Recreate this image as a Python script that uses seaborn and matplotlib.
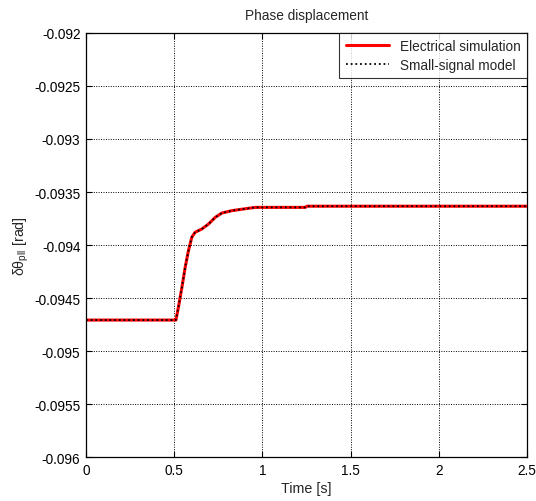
import numpy as np
import pandas as pd
import matplotlib
matplotlib.use('Agg')
import matplotlib.pyplot as plt
from matplotlib.ticker import FuncFormatter
import seaborn as sns

# Values
time_s = [0.0, 0.51, 0.524, 0.544, 0.5625, 0.581, 0.600, 0.619, 0.657, 0.695,
          0.733, 0.771, 0.828, 0.903, 0.960, 1.244, 1.252, 2.5]
phase_rad = [-0.094708, -0.094708, -0.094588, -0.094399, -0.094210, -0.094054,
             -0.093927, -0.093880, -0.093849, -0.093802, -0.093739, -0.093698,
             -0.093676, -0.093658, -0.093645, -0.093645, -0.093634, -0.093634]

x_ticks = [0, 0.5, 1, 1.5, 2, 2.5]
y_ticks = [-0.096, -0.0955, -0.095, -0.0945, -0.094, -0.0935, -0.093, -0.0925, -0.092]

sns.set_style('ticks')
plt.rcParams['font.family'] = ['Liberation Sans', 'DejaVu Sans']
plt.rcParams['mathtext.fontset'] = 'custom'
plt.rcParams['mathtext.rm'] = 'Liberation Sans'
plt.rcParams['mathtext.it'] = 'Liberation Sans:italic'

FS = 9.8

df = pd.DataFrame({'t': time_s, 'v': phase_rad})

fig = plt.figure(figsize=(5.36, 5.02), dpi=100)
ax = fig.add_axes([0.1604, 0.0876, 0.8226, 0.8447])

sns.lineplot(data=df, x='t', y='v', ax=ax, color='#ff0000', linewidth=2.2,
             label='Electrical simulation')
sns.lineplot(data=df, x='t', y='v', ax=ax, color='black', linewidth=1.3,
             linestyle=(0, (1, 1.6)), label='Small-signal model')

ax.set_xlim(0, 2.5)
ax.set_ylim(-0.096, -0.092)
ax.set_xticks(x_ticks)
ax.set_yticks(y_ticks)
ax.xaxis.set_major_formatter(FuncFormatter(lambda v, p: f'{v:g}'))
ax.yaxis.set_major_formatter(FuncFormatter(lambda v, p: f'{v:g}'))
ax.grid(True, color='black', linestyle=(0, (1, 1.5)), linewidth=0.7)
ax.tick_params(direction='in', top=True, right=True, labelsize=FS, length=4,
               width=0.8, colors='black', pad=4)
for s in ax.spines.values():
    s.set_linewidth(0.9)
    s.set_color('black')

ax.set_title('Phase displacement', fontsize=FS, pad=10)
ax.set_xlabel('Time [s]', fontsize=FS + 0.5, labelpad=3)
ax.set_ylabel('δθ$_{\\rm pll}$ [rad]', fontsize=FS + 0.5, labelpad=2)

leg = ax.legend(loc='upper right', fontsize=FS, frameon=True, fancybox=False,
                borderaxespad=0, handlelength=3.2, borderpad=0.45, labelspacing=0.35)
leg.get_frame().set_edgecolor('black')
leg.get_frame().set_linewidth(0.8)

fig.savefig('out.png', dpi=100)
